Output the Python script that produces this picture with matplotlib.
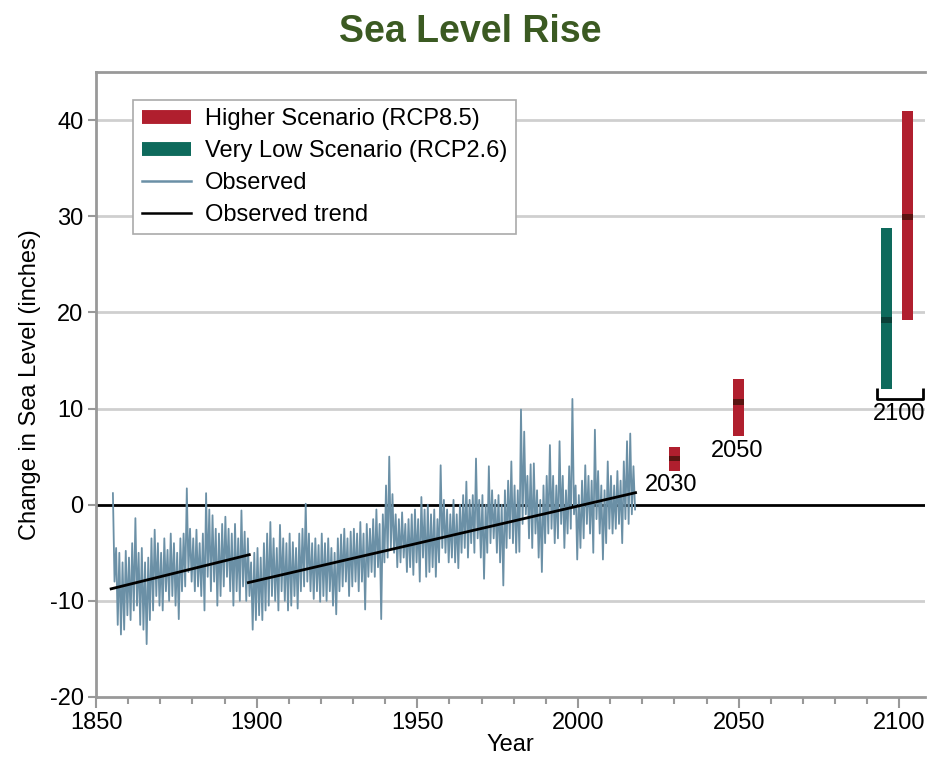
import numpy as np
import matplotlib
matplotlib.use("Agg")
import matplotlib.pyplot as plt
from matplotlib.lines import Line2D

plt.rcParams['font.family'] = ['Liberation Sans', 'DejaVu Sans']
plt.rcParams['axes.unicode_minus'] = False

# observed record: per-year high and low values (inches)
obs_years = list(range(1855, 2018))
obs_high = [
    1.2, -4.5, -5.0, -6.0, -4.8, -5.5, -4.0, -1.4, -5.0, -4.5,   # 1855-1864
    -6.0, -5.5, -3.5, -2.6, -4.0, -5.0, -3.5, -4.7, -3.0, -4.0,  # 1865-1874
    -5.0, -3.5, -3.0, 1.7, -2.5, -3.5, -2.6, -4.0, -3.0, 1.2,    # 1875-1884
    -0.5, -1.1, -2.5, -3.0, -2.0, -1.25, -2.5, -3.0, -2.0, -3.5, # 1885-1894
    -0.6, -2.8, -3.5, -6.0, -5.0, -4.5, -5.5, -4.0, -3.0, -1.8,  # 1895-1904
    -3.5, -4.5, -2.1, -3.5, -4.0, -3.0, -3.9, -4.5, -3.0, -2.5,  # 1905-1914
    0.1, -3.0, -4.0, -3.5, -4.2, -3.0, -4.0, -3.5, -4.5, -5.0,   # 1915-1924
    -3.5, -3.1, -2.5, -3.5, -2.8, -2.5, -3.0, -1.8, -3.0, -2.0,  # 1925-1934
    -2.5, -1.5, -0.5, -2.0, -1.0, 2.0, 5.0, 1.1, -1.0, -1.5,     # 1935-1944
    -0.8, -2.0, -1.5, -1.0, -0.5, -1.5, 0.8, -0.5, 0.0, -1.0,    # 1945-1954
    -0.5, -1.5, 4.1, 0.5, -0.5, -1.0, 0.5, -1.0, 0.0, 1.0,       # 1955-1964
    2.4, 0.5, 1.0, 4.8, 0.5, 1.0, 0.0, 4.0, 1.5, 0.5,            # 1965-1974
    1.0, 0.0, 1.5, 2.5, 4.5, 2.0, 1.5, 9.9, 7.6, 3.0,            # 1975-1984
    4.2, 4.3, 1.5, 0.5, 2.0, 3.0, 6.2, 3.0, 2.0, 6.6,            # 1985-1994
    3.0, 1.5, 4.0, 11.0, 2.0, 1.0, 2.5, 4.1, 3.0, 2.5,           # 1995-2004
    7.8, 3.5, 2.0, 1.5, 4.5, 3.0, 2.0, 3.5, 2.5, 4.5,            # 2005-2014
    6.6, 7.4, 4.0,                                               # 2015-2017
]
obs_low = [
    -8.0, -12.5, -13.5, -13.0, -11.5, -12.0, -11.0, -10.5, -12.5, -13.0,  # 1855-1864
    -14.5, -12.0, -11.0, -9.5, -10.5, -11.0, -9.0, -10.0, -9.5, -10.5,    # 1865-1874
    -11.9, -9.0, -8.5, -7.0, -8.0, -9.0, -8.5, -9.5, -11.0, -7.5,         # 1875-1884
    -9.0, -8.0, -10.5, -9.5, -8.5, -7.5, -9.0, -10.5, -9.0, -10.0,        # 1885-1894
    -8.5, -10.0, -9.5, -13.0, -12.0, -11.5, -12.0, -11.0, -10.5, -9.5,    # 1895-1904
    -10.0, -11.0, -9.0, -10.0, -11.0, -10.5, -9.5, -10.8, -9.0, -8.5,     # 1905-1914
    -8.0, -9.0, -9.8, -9.0, -10.1, -9.5, -10.0, -9.0, -10.5, -11.4,       # 1915-1924
    -9.0, -8.5, -8.0, -9.5, -8.5, -8.0, -9.0, -8.0, -10.9, -7.5,          # 1925-1934
    -7.0, -7.5, -6.5, -11.9, -6.0, -5.5, -4.5, -5.0, -6.5, -6.0,          # 1935-1944
    -5.5, -7.0, -6.5, -7.3, -6.0, -8.0, -5.5, -7.5, -7.0, -6.5,           # 1945-1954
    -7.5, -6.0, -4.5, -5.0, -6.0, -5.5, -6.0, -6.6, -5.0, -4.5,           # 1955-1964
    -5.5, -4.0, -5.0, -3.5, -5.5, -7.7, -5.0, -4.0, -3.5, -5.0,           # 1965-1974
    -6.0, -8.4, -4.5, -3.5, -4.0, -5.0, -4.9, -2.0, -1.0, -3.5,           # 1975-1984
    -4.5, -3.0, -5.5, -7.0, -4.0, -3.0, -2.5, -4.0, -3.5, -2.0,           # 1985-1994
    -4.5, -3.0, -2.5, -1.0, -5.7, -4.5, -3.5, -2.0, -3.0, -5.0,           # 1995-2004
    -1.5, -3.0, -5.7, -4.0, -2.5, -3.0, -2.5, -2.0, -4.0, -1.5,           # 2005-2014
    -2.0, -1.0, -0.5,                                                     # 2015-2017
]

# observed trend segments (years, values)
trend1 = ([1854.7, 1897.7], [-8.75, -5.2])
trend2 = ([1897.4, 2017.9], [-8.1, 1.25])

# projections: year position, low, median, high
high_x = [2030, 2050, 2102.5]
high_low = [3.5, 7.1, 19.2]
high_med = [4.8, 10.7, 29.9]
high_top = [6.0, 13.1, 40.9]
vlow_x = [2096.0]
vlow_low = [12.0]
vlow_med = [19.2]
vlow_top = [28.75]

year_labels = ["2030", "2050", "2100"]
year_label_pos = [(2029, 2.0), (2049.5, 5.6), (2100, 9.4)]

RED = "#b01f2e"
TEAL = "#0e6a5c"
OBS = "#6b90a6"

fig = plt.figure(figsize=(9.27, 7.64), dpi=100)
ax = fig.add_axes([0.1036, 0.0877, 0.8943, 0.818])

# gridlines
for yv in [-10, 10, 20, 30, 40]:
    ax.axhline(yv, color="#cfcfcf", lw=2, zorder=0)
ax.axhline(0, color="black", lw=2, zorder=1)

# observed series, highs and lows interleaved
xs, ys = [], []
for yr, hi, lo in zip(obs_years, obs_high, obs_low):
    xs += [yr + 0.25, yr + 0.75]
    ys += [hi, lo]
ax.plot(xs, ys, color=OBS, lw=1.3, zorder=2)

ax.plot(*trend1, color="black", lw=2, zorder=3)
ax.plot(*trend2, color="black", lw=2, zorder=3)

# projection bars with median stripe
w = 3.5
for x, lo, md, hi in zip(high_x, high_low, high_med, high_top):
    ax.bar(x, hi - lo, bottom=lo, width=w, color=RED, zorder=3)
    ax.bar(x, 0.6, bottom=md - 0.3, width=w, color="#5a1512", zorder=4)
for x, lo, md, hi in zip(vlow_x, vlow_low, vlow_med, vlow_top):
    ax.bar(x, hi - lo, bottom=lo, width=w, color=TEAL, zorder=3)
    ax.bar(x, 0.6, bottom=md - 0.3, width=w, color="#0b4038", zorder=4)

# bracket under 2100 bars
ax.plot([2093.0, 2093.0, 2107.3, 2107.3], [12.1, 11.0, 11.0, 12.1],
        color="black", lw=2, zorder=3, solid_capstyle="butt")

for txt, (px, py) in zip(year_labels, year_label_pos):
    ax.text(px, py, txt, ha="center", va="center", fontsize=17)

ax.set_xlim(1850, 2108)
ax.set_ylim(-20, 45)
ax.set_xticks(range(1850, 2101, 50))
ax.set_xticks(range(1850, 2108, 10), minor=True)
ax.set_yticks(range(-20, 41, 10))
ax.tick_params(axis="both", which="both", color="#999999", width=1.5,
               labelsize=17, direction="out")
ax.tick_params(axis="x", which="major", length=8, pad=3)
ax.tick_params(axis="x", which="minor", length=5)
ax.tick_params(axis="y", length=6, pad=3)
for side in ["left", "bottom", "top"]:
    ax.spines[side].set_color("#999999")
    ax.spines[side].set_linewidth(2)
ax.spines["right"].set_visible(False)

ax.set_xlabel("Year", fontsize=17, labelpad=0)
ax.set_ylabel("Change in Sea Level (inches)", fontsize=17, labelpad=6)

fig.text(0.507, 0.958, "Sea Level Rise", ha="center", va="center",
         fontsize=27, fontweight="bold", color="#3b5a22")

handles = [
    Line2D([], [], color=RED, lw=10, solid_capstyle="butt"),
    Line2D([], [], color=TEAL, lw=10, solid_capstyle="butt"),
    Line2D([], [], color=OBS, lw=1.8),
    Line2D([], [], color="black", lw=1.8),
]
labels = ["Higher Scenario (RCP8.5)", "Very Low Scenario (RCP2.6)",
          "Observed", "Observed trend"]
leg = ax.legend(handles, labels, loc="upper left", bbox_to_anchor=(0.045, 0.955),
                borderaxespad=0, fontsize=17, handlelength=2.1, fancybox=False,
                framealpha=1, edgecolor="#aaaaaa", labelspacing=0.42,
                borderpad=0.35, handletextpad=0.6)
leg.get_frame().set_linewidth(1.2)

fig.savefig("out.png", dpi=100)
